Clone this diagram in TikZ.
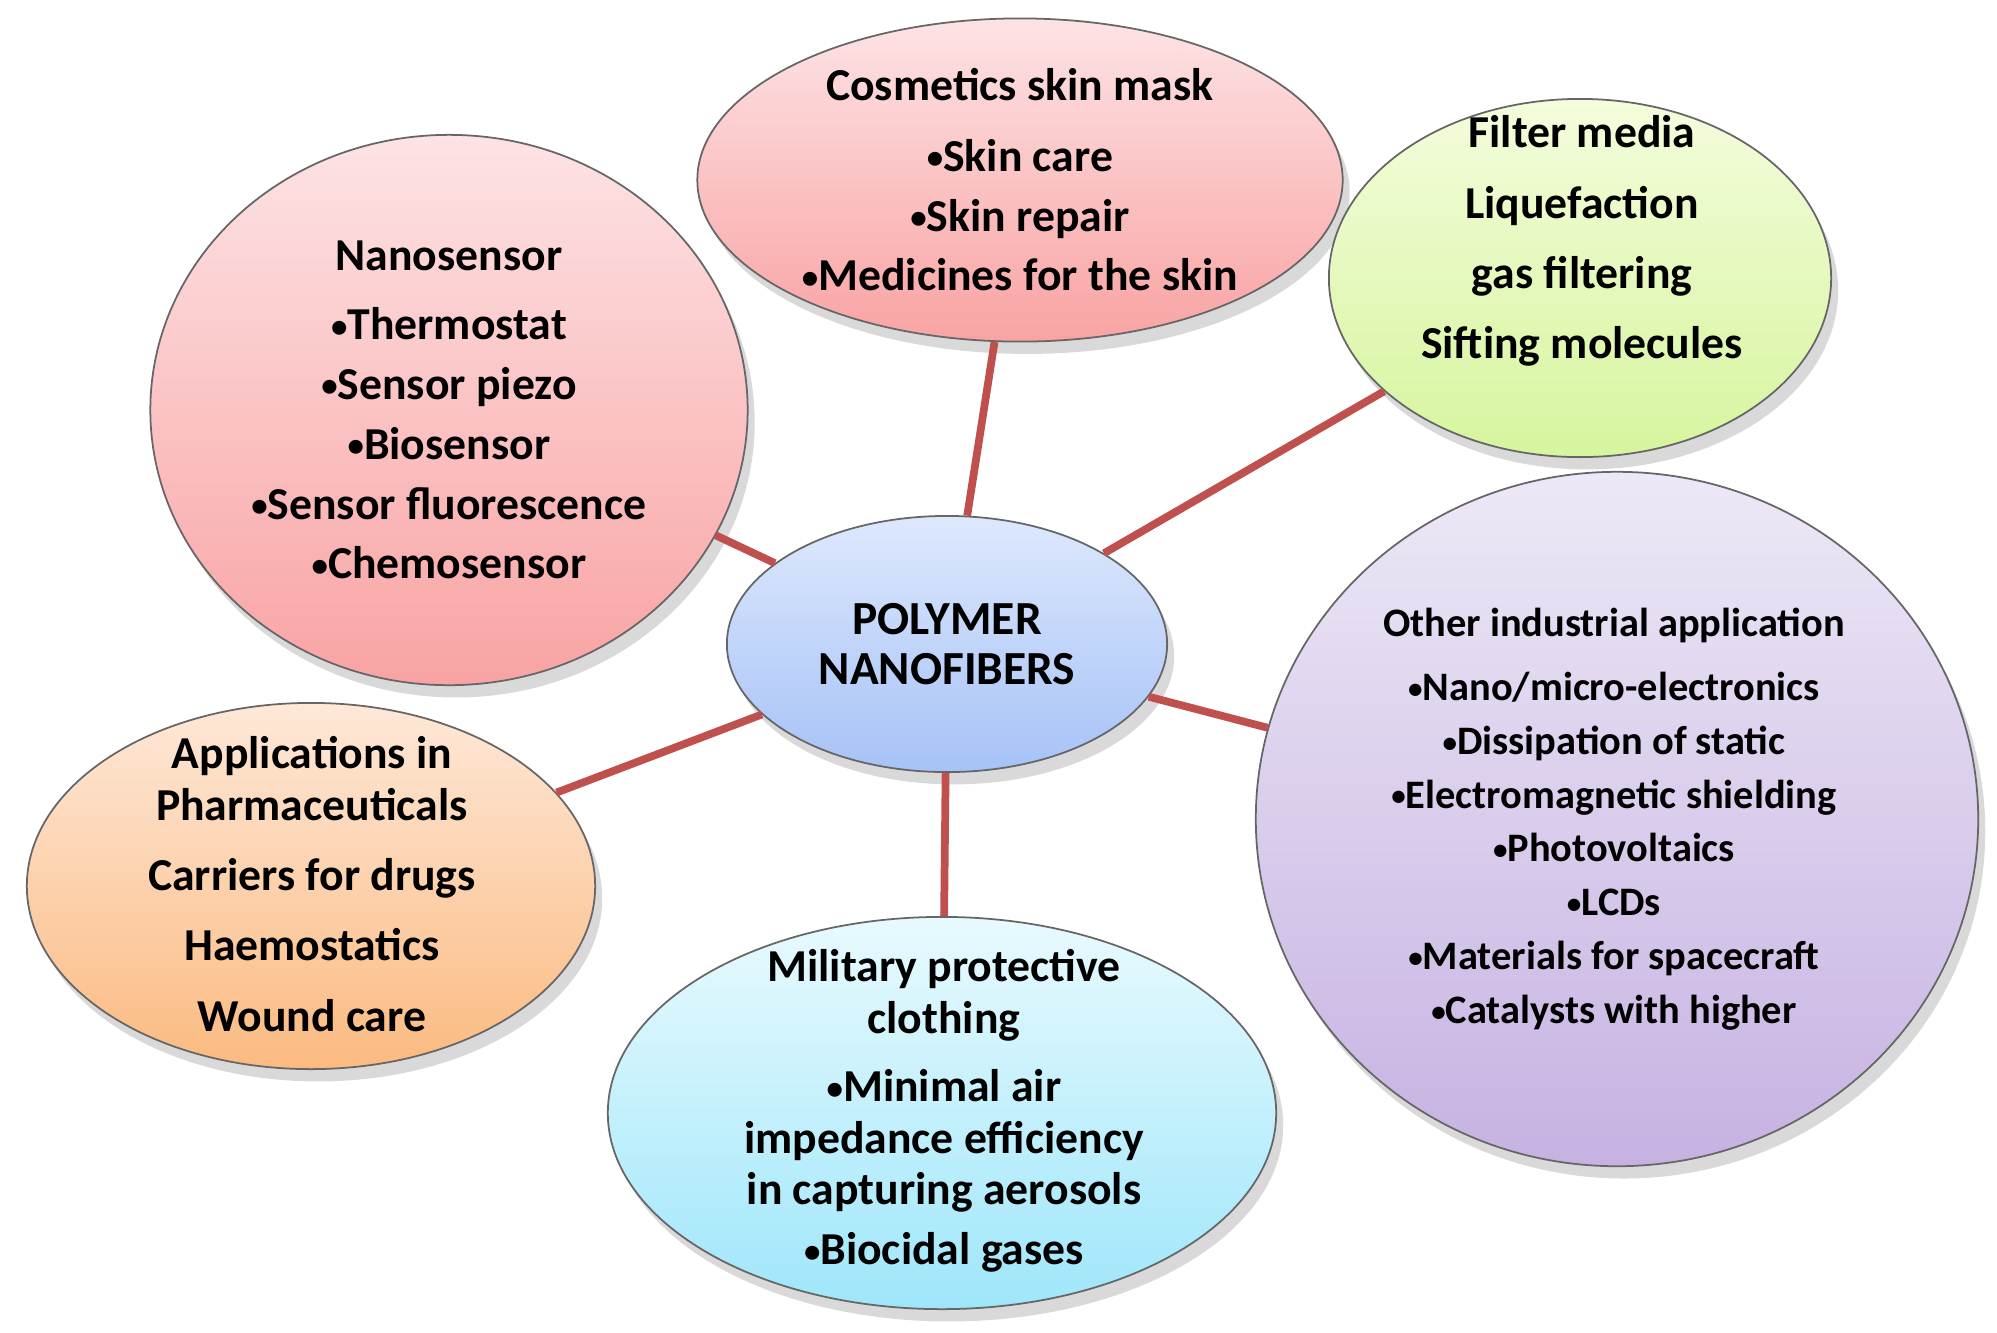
\documentclass[tikz,border=0pt]{standalone}
\usepackage{fontspec}
\setmainfont{Carlito}
\usepackage{tikz}
\usetikzlibrary{shapes.geometric,shadows}
\definecolor{linkred}{HTML}{C0504D}
\definecolor{pinktop}{HTML}{FDE3E5}
\definecolor{pinkbot}{HTML}{F9A3A3}
\definecolor{greentop}{HTML}{F4FCDC}
\definecolor{greenbot}{HTML}{D6F59E}
\definecolor{lilactop}{HTML}{EDE8F6}
\definecolor{lilacbot}{HTML}{C6B2E2}
\definecolor{cyantop}{HTML}{E8FAFE}
\definecolor{cyanbot}{HTML}{9FE6FA}
\definecolor{peachtop}{HTML}{FEE8D8}
\definecolor{peachbot}{HTML}{FBBA80}
\definecolor{bluetop}{HTML}{DDE8FC}
\definecolor{bluebot}{HTML}{A6C2F7}
\newcommand{\bul}{\raisebox{0.12ex}{\scalebox{0.72}{•}}}

\begin{document}
\begin{tikzpicture}[x=0.01cm,y=-0.01cm,
    bubble/.style={ellipse,draw=black!60,line width=0.5pt,inner sep=0pt,
        drop shadow={shadow xshift=2pt,shadow yshift=-3.5pt,opacity=0.3}},
    txt/.style={align=center,font=\bfseries\fontsize{13}{17}\selectfont},
    link/.style={draw=linkred,line width=2.2pt}]
    \useasboundingbox (0,0) rectangle (1997,1332);

    % centre bubble
    \node[bubble,top color=bluetop,bottom color=bluebot,minimum width=4.4cm,minimum height=2.56cm] (core) at (947,644) {};
    \node[txt,font=\bfseries\fontsize{13.5}{14.2}\selectfont] (coretext) at (core) {POLYMER\\NANOFIBERS};

    % application bubbles
    \node[bubble,top color=pinktop,bottom color=pinkbot,minimum width=5.97cm,minimum height=5.5cm] (nano) at (449,410) {};
    \node[txt] (nanotext) at (nano) {Nanosensor\\[2.7pt] \bul Thermostat\\ \bul Sensor piezo\\ \bul Biosensor\\ \bul Sensor fluorescence\\ \bul Chemosensor};

    \node[bubble,top color=pinktop,bottom color=pinkbot,minimum width=6.45cm,minimum height=3.23cm] (cosm) at (1020,180) {};
    \node[txt] (cosmtext) at (cosm) {Cosmetics skin mask\\[3pt] \bul Skin care\\ \bul Skin repair\\ \bul Medicines for the skin};

    \node[bubble,top color=greentop,bottom color=greenbot,minimum width=5.02cm,minimum height=3.58cm] (filter) at (1580,278) {};
    \node[txt] (filtertext) at (1582,241) {Filter media\\[3pt] Liquefaction\\[3pt] gas filtering\\[3pt] Sifting molecules};

    \node[bubble,top color=lilactop,bottom color=lilacbot,minimum width=7.22cm,minimum height=6.94cm] (other) at (1617,819) {};
    \node[txt,font=\bfseries\fontsize{11.5}{15.3}\selectfont] (othertext) at (1614,819) {Other industrial application\\[3pt] \bul Nano/micro-electronics\\ \bul Dissipation of static\\ \bul Electromagnetic shielding\\ \bul Photovoltaics\\ \bul LCDs\\ \bul Materials for spacecraft\\ \bul Catalysts with higher};

    \node[bubble,top color=cyantop,bottom color=cyanbot,minimum width=6.68cm,minimum height=3.92cm] (mil) at (942,1113) {};
    \node[txt,font=\bfseries\fontsize{13}{14.6}\selectfont] (miltext) at (944,1111) {Military protective\\ clothing\\[5pt] \bul Minimal air\\ impedance efficiency\\ in capturing aerosols\\[2.5pt] \bul Biocidal gases};

    \node[bubble,top color=peachtop,bottom color=peachbot,minimum width=5.68cm,minimum height=3.66cm] (pharm) at (311,886) {};
    \node[txt,font=\bfseries\fontsize{13}{14.6}\selectfont] (pharmtext) at (312,884) {Applications in\\ Pharmaceuticals\\[5.4pt] Carriers for drugs\\[5.4pt] Haemostatics\\[5.4pt] Wound care};

    % links to the centre
    \draw[link] (nano) -- (core);
    \draw[link] (cosm) -- (core);
    \draw[link] (filter) -- (core);
    \draw[link] (other) -- (core);
    \draw[link] (mil) -- (core);
    \draw[link] (pharm) -- (core);
\end{tikzpicture}
\end{document}
